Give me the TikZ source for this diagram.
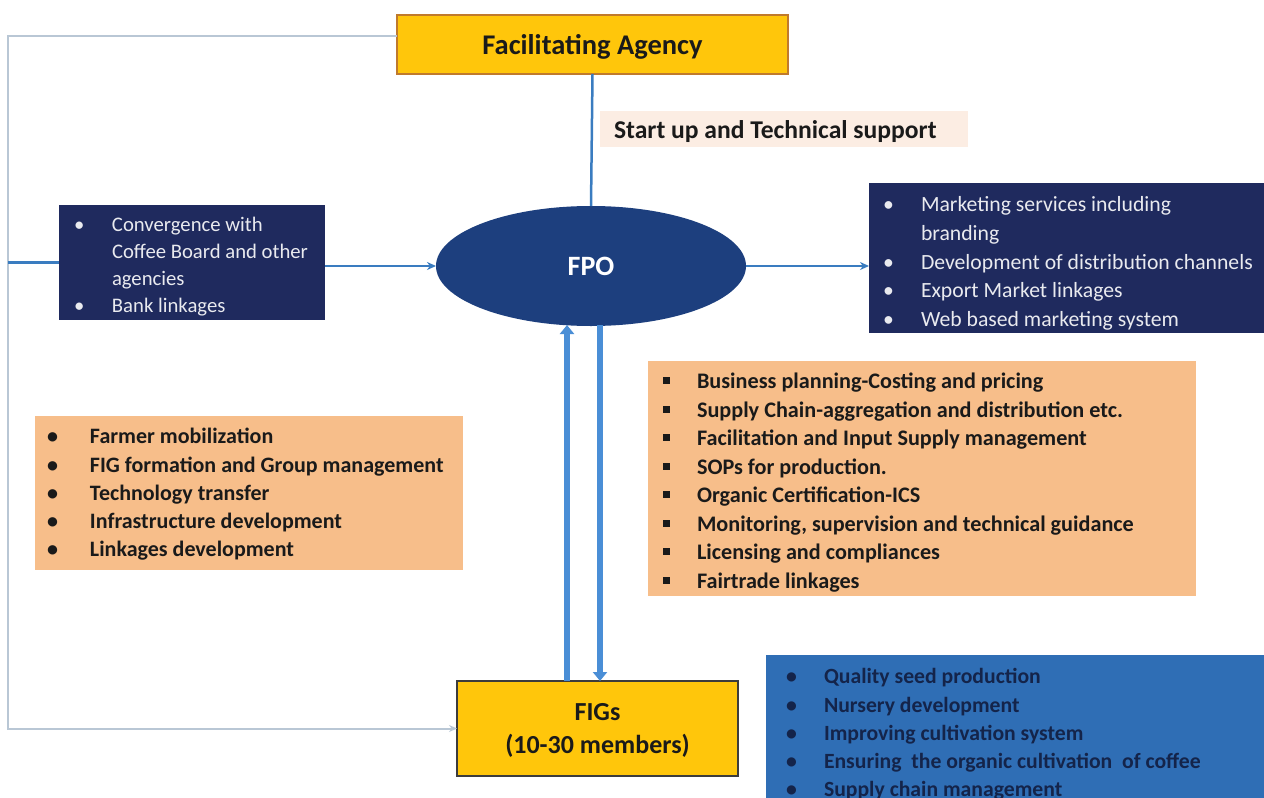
\documentclass[tikz,border=0pt]{standalone}
\usepackage{fontspec}
\setmainfont{Carlito}
\usetikzlibrary{arrows.meta,shapes.geometric,calc}

\definecolor{gold}{HTML}{FFC60B}
\definecolor{goldedge}{HTML}{C07A2C}
\definecolor{navy}{HTML}{1F2A5E}
\definecolor{fpoblue}{HTML}{1D3F7E}
\definecolor{peach}{HTML}{F7BE8A}
\definecolor{palepeach}{HTML}{FCEDE3}
\definecolor{midblue}{HTML}{2F6EB5}
\definecolor{linkblue}{HTML}{3A7CC0}
\definecolor{fatblue}{HTML}{4A8ED6}
\definecolor{loopgrey}{HTML}{B9C7D5}
\definecolor{darktext}{HTML}{1A1A1A}
\definecolor{navytext}{HTML}{14244A}

% list lines: bullet in a fixed-width box, then the item text on one line
\newcommand\bli[2][38pt]{\mbox{\makebox[#1][l]{\textbullet}#2}}
\newcommand\sqi[1]{\mbox{\makebox[34pt][l]{\rule[0.2em]{0.32em}{0.32em}}#1}}
\newcommand\cli[2][38pt]{\mbox{\hspace*{#1}#2}}

\tikzset{
  panel/.style={rectangle, outer sep=0pt, inner sep=0pt, anchor=north west},
  listtext/.style={inner sep=0pt, outer sep=0pt, align=left, anchor=west},
  conn/.style={draw=linkblue, line width=2.5pt, -{Stealth[length=9pt,width=8pt]}},
  plainconn/.style={draw=linkblue, line width=2.5pt},
  loopline/.style={draw=loopgrey, line width=2pt, -{Stealth[length=8pt,width=7pt]}},
  fat/.style={draw=fatblue, line width=6pt, -{Triangle[length=9pt,width=14pt]}},
}

\begin{document}
\begin{tikzpicture}[x=1pt,y=-1pt]
\useasboundingbox (0,0) rectangle (1264,798);
\clip (0,0) rectangle (1264,798);

% top agency
\node[panel, fill=gold, draw=goldedge, line width=1.2pt, minimum width=391pt, minimum height=59pt]
  (fa) at (397,15) {};
\node[inner sep=0pt, text=darktext, font=\fontsize{28.5}{32}\selectfont\bfseries]
  (fatext) at ($(fa.center)+(0,2.5)$) {Facilitating Agency};

% support label
\node[panel, fill=palepeach, minimum width=368pt, minimum height=36pt] (sup) at (600,111) {};
\node[listtext, text=darktext, font=\fontsize{25.6}{30}\selectfont\bfseries]
  (suptext) at ($(sup.west)+(14,3)$) {Start up and Technical support};

% central organisation
\node[ellipse, fill=fpoblue, minimum width=310pt, minimum height=120pt, text=white, outer sep=0pt,
  font=\fontsize{28}{32}\selectfont\bfseries]
  (fpo) at (591,266) {FPO};

% left dark box
\node[panel, fill=navy, minimum width=266pt, minimum height=115pt] (lbox) at (59,205) {};
\node[listtext, text=white!90!navy, font=\fontsize{20.7}{27}\selectfont]
  (ltext) at ($(lbox.west)+(15,4)$) {%
  \bli{Convergence with}\\ \cli{Coffee Board and other}\\ \cli{agencies}\\ \bli{Bank linkages}};

% right dark box
\node[panel, fill=navy, minimum width=400pt, minimum height=150pt] (rbox) at (869,183) {};
\node[listtext, text=white!90!navy, font=\fontsize{21.7}{28.8}\selectfont]
  (rtext) at ($(rbox.west)+(14,5.5)$) {%
  \bli{Marketing services including}\\ \cli{branding}\\ \bli{Development of distribution channels}\\
  \bli{Export Market linkages}\\ \bli{Web based marketing system}};

% right peach box
\node[panel, fill=peach, minimum width=548pt, minimum height=235pt] (obox) at (648,361) {};
\node[listtext, text=darktext, font=\fontsize{22.2}{28.5}\selectfont\bfseries]
  (otext) at ($(obox.west)+(15,4)$) {%
  \sqi{Business planning-Costing and pricing}\\
  \sqi{Supply Chain-aggregation and distribution etc.}\\
  \sqi{Facilitation and Input Supply management}\\
  \sqi{SOPs for production.}\\
  \sqi{Organic Certification-ICS}\\
  \sqi{Monitoring, supervision and technical guidance}\\
  \sqi{Licensing and compliances}\\
  \sqi{Fairtrade linkages}};

% left peach box
\node[panel, fill=peach, minimum width=428pt, minimum height=154pt] (pbox) at (35,416) {};
\node[listtext, text=darktext, font=\fontsize{22}{28.2}\selectfont\bfseries]
  (ptext) at ($(pbox.west)+(12,1.5)$) {%
  \bli[43pt]{Farmer mobilization}\\
  \bli[43pt]{FIG formation and Group management}\\
  \bli[43pt]{Technology transfer}\\
  \bli[43pt]{Infrastructure development}\\
  \bli[43pt]{Linkages development}};

% farmer interest groups
\node[panel, fill=gold, draw=darktext!85, line width=2pt, minimum width=281pt, minimum height=95pt]
  (figs) at (457,681) {};
\node[inner sep=0pt, align=center, text=darktext, font=\fontsize{26}{33}\selectfont\bfseries]
  (figstext) at ($(figs.center)+(0,2)$) {FIGs\\(10-30 members)};

% bottom blue box
\node[panel, fill=midblue, minimum width=520pt, minimum height=157pt] (bbox) at (766,655) {};
\node[listtext, text=navytext, font=\fontsize{21.7}{28.3}\selectfont\bfseries]
  (btext) at ($(bbox.west)+(20,1)$) {%
  \bli{Quality seed production}\\
  \bli{Nursery development}\\
  \bli{Improving cultivation system}\\
  \bli{Ensuring\ \ the organic cultivation\ \ of coffee}\\
  \bli{Supply chain management}};

% connectors
\coordinate (lx) at (8,0);
\draw[plainconn] (fa.south) -- (fpo.north);
\draw[loopline] ($(fa.north west)!0.36!(fa.south west)$) -| (lx |- figs.west) -- (figs.west);
\draw[plainconn] (lx |- lbox.west) -- (lbox.west);
\draw[conn] (lbox.east |- fpo.west) -- (fpo.west);
\draw[conn] (fpo.east) -- (fpo.east -| rbox.west);
\draw[fat] ($(figs.north)+(-30.5,0)$) -- ($(fpo.south)+(-24,-1)$);
\draw[fat] ($(fpo.south)+(9,-1)$) -- ($(figs.north)+(2.5,0)$);
\end{tikzpicture}
\end{document}
